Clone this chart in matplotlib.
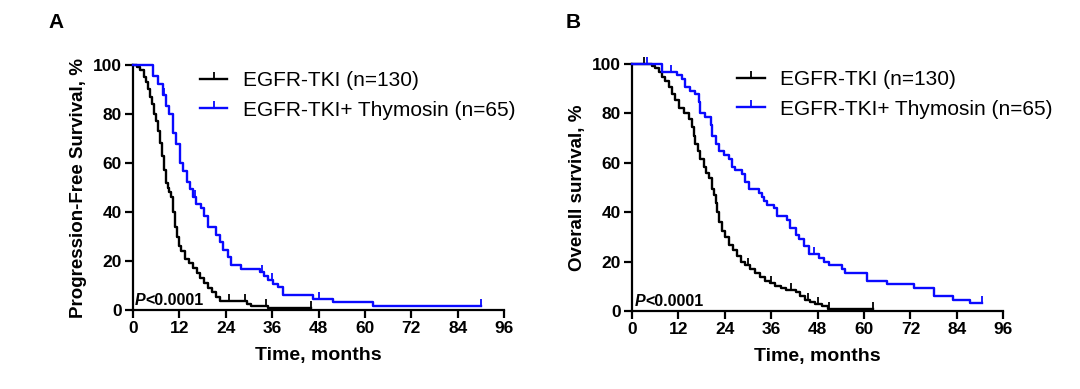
import numpy as np
import matplotlib
matplotlib.use('Agg')
import matplotlib.pyplot as plt
from matplotlib.lines import Line2D

plt.rcParams['font.family'] = ['Liberation Sans', 'DejaVu Sans']

# ---- data (months, % surviving) ----
# A: progression-free survival
pfs_ctrl_t = [0, 1, 2, 3, 3.5, 4, 4.5, 5, 5.5, 6, 6.5, 7, 7.5, 8, 8.5, 9, 9.5, 10, 10.5, 11,
              11.5, 12, 12.5, 13.5, 14.5, 15.5, 16.5, 17.5, 18.5, 19.5, 20.5, 21.5, 22.5,
              29.5, 30.5, 35, 46]
pfs_ctrl_s = [100, 99, 98, 95, 93, 90, 87, 84, 80, 77, 73, 68, 63, 57, 52, 50, 48, 46, 40, 34,
              30, 26, 24, 21, 19, 17, 15, 13, 11, 9, 7.5, 5.5, 3.8,
              2.3, 1.5, 0.8, 0.8]
pfs_ctrl_cens = [25, 29, 34.5, 46]

pfs_thy_t = [0, 5.2, 6.5, 7.8, 8.7, 9.5, 10.4, 11.3, 12.1, 13.0, 13.9, 14.7, 15.6, 16.4, 17.7,
             18.5, 19.4, 21.6, 22.5, 23.3, 24.6, 25.5, 28, 32.8, 34, 34.9, 36.2, 37.5, 38.8,
             46.5, 51.7, 62, 90]
pfs_thy_s = [100, 95.4, 92.3, 87.7, 83.1, 80, 72.3, 67.7, 60, 56.9, 52.3, 49.2, 46.2, 43.1, 41.5,
             38.5, 33.8, 30.8, 27.7, 24.6, 21.5, 18.5, 16.9, 15.4, 13.8, 12.3, 10.8, 9.2, 6.2,
             4.6, 3.1, 1.5, 1.5]
pfs_thy_cens = [8, 16, 33.5, 36, 48, 90]

# B: overall survival
os_ctrl_t = [0, 5.2, 6, 6.9, 7.7, 8.6, 9.5, 10.3, 11.2, 12.1, 13.4, 14.7, 15.5, 16, 16.4, 17,
             17.7, 18.5, 19.2, 19.8, 20.7, 21.2, 21.6, 22, 22.4, 23.3, 24, 25, 26, 27.2, 28.2,
             29.3, 30.5, 31.9, 33.2, 34.5, 35.8, 37.1, 38.4, 39.7, 42.3, 43.5, 44.8, 46, 47.4,
             49.2, 50.8, 62.4]
os_ctrl_s = [100, 99.2, 98.3, 96.9, 94.6, 93, 90.8, 88, 85.4, 82.3, 80, 77.7, 74.6, 71, 67.7, 64.6,
             61.5, 58.5, 56, 53.8, 49.2, 46.9, 43.8, 40, 36.2, 32.3, 30, 26.9, 24.6, 22.3, 20,
             18.5, 16.9, 15.4, 13.8, 12.3, 11.5, 10, 9.2, 8.5, 7.7, 6.2, 4.6, 3.8, 2.7,
             2, 0.8, 0.8]
os_ctrl_cens = [3, 30, 36, 41, 45.5, 48, 51, 62.4]

os_thy_t = [0, 7.8, 11.6, 12.9, 13.8, 15.1, 16.4, 17.2, 17.7, 19, 20.3, 20.7, 21.6, 22.4, 23.7,
            25, 25.9, 26.7, 28.5, 29.3, 30.2, 32.8, 33.6, 34.2, 34.9, 36.6, 37.5, 40.1, 40.9,
            42.3, 43.1, 44.4, 45.7, 48.3, 49.6, 50.9, 54.3, 55, 60.8, 66, 72.9, 78, 83.1,
            87.4, 90.5]
os_thy_s = [100, 96.9, 95.4, 93.8, 90.8, 89.2, 87.7, 84.6, 80, 78.5, 75.4, 70.8, 67.7, 64.6, 63.1,
            61.5, 58.5, 56.9, 55.4, 52.3, 49.2, 47.7, 46.2, 44.6, 43.1, 41.5, 38.5, 36.9, 33.8,
            30.8, 29.2, 26.2, 23.1, 21.5, 20, 18.5, 16.9, 15.4, 12.3, 10.8, 9.2, 6.2, 4.6,
            3.1, 3.1]
os_thy_cens = [4, 10, 47, 90.5]

x_ticks = [0, 12, 24, 36, 48, 60, 72, 84, 96]
y_ticks = [0, 20, 40, 60, 80, 100]
leg_labels = ['EGFR-TKI (n=130)', 'EGFR-TKI+ Thymosin (n=65)']

blue = '#0a0aff'
lw = 1.7


def surv_at(t_list, s_list, x):
    idx = np.searchsorted(np.asarray(t_list), x, side='right') - 1
    return np.asarray(s_list)[idx]


def km(ax, t, s, cens, color):
    ax.step(t, s, where='post', color=color, lw=lw, clip_on=False, zorder=3)
    ax.plot(cens, surv_at(t, s, cens), ls='none', marker=2, ms=5, mew=1.3,
            color=color, clip_on=False, zorder=3)


fig = plt.figure(figsize=(10.8, 3.89), dpi=100)
ax_a = fig.add_axes([132.7 / 1080, 1 - 310 / 389, (504.3 - 132.7) / 1080, 245 / 389])
ax_b = fig.add_axes([632 / 1080, 1 - 311 / 389, (1003.3 - 632) / 1080, 247 / 389])

panels = [
    (ax_a, pfs_ctrl_t, pfs_ctrl_s, pfs_ctrl_cens, pfs_thy_t, pfs_thy_s, pfs_thy_cens,
     'Progression-Free Survival, %', 'A', 48, 0.181),
    (ax_b, os_ctrl_t, os_ctrl_s, os_ctrl_cens, os_thy_t, os_thy_s, os_thy_cens,
     'Overall survival, %', 'B', 566, 0.284),
]

for ax, ct, cs, cc, tt, ts, tc, ylab, letter, letter_x, leg_x in panels:
    km(ax, ct, cs, cc, 'black')
    km(ax, tt, ts, tc, blue)
    ax.set_xlim(0, 96)
    ax.set_ylim(0, 100)
    ax.set_xticks(x_ticks)
    ax.set_yticks(y_ticks)
    for side in ['top', 'right']:
        ax.spines[side].set_visible(False)
    for side in ['left', 'bottom']:
        ax.spines[side].set_linewidth(1.6)
    ax.tick_params(direction='out', length=6, width=1.6, labelsize=12.5, pad=2)
    for lab in ax.get_xticklabels() + ax.get_yticklabels():
        lab.set_fontweight('bold')
    ax.set_xlabel('Time, months', fontsize=14, fontweight='bold', labelpad=8)
    ax.set_ylabel(ylab, fontsize=13.5, fontweight='bold', labelpad=4)
    # p value
    tp = ax.text(0.6, 1.0, 'P', fontsize=11.5, fontweight='bold', style='italic',
                 va='bottom', ha='left')
    ax.annotate('<0.0001', xy=(1, 0), xycoords=tp, va='bottom', ha='left',
                fontsize=11.5, fontweight='bold')
    fig.text(letter_x / 1080, 1 - 22 / 389, letter, fontsize=15, fontweight='bold',
             va='center', ha='left')
    handles = [Line2D([], [], color='black', lw=lw, marker=2, ms=5, mew=1.3, markevery=[1]),
               Line2D([], [], color=blue, lw=lw, marker=2, ms=5, mew=1.3, markevery=[1])]
    ax.legend(handles, leg_labels, loc='upper left', bbox_to_anchor=(leg_x, 0.975),
              frameon=False, fontsize=15, handlelength=1.3, handletextpad=0.75,
              labelspacing=0.5, borderpad=0, borderaxespad=0)

fig.savefig('out.png', dpi=100)
